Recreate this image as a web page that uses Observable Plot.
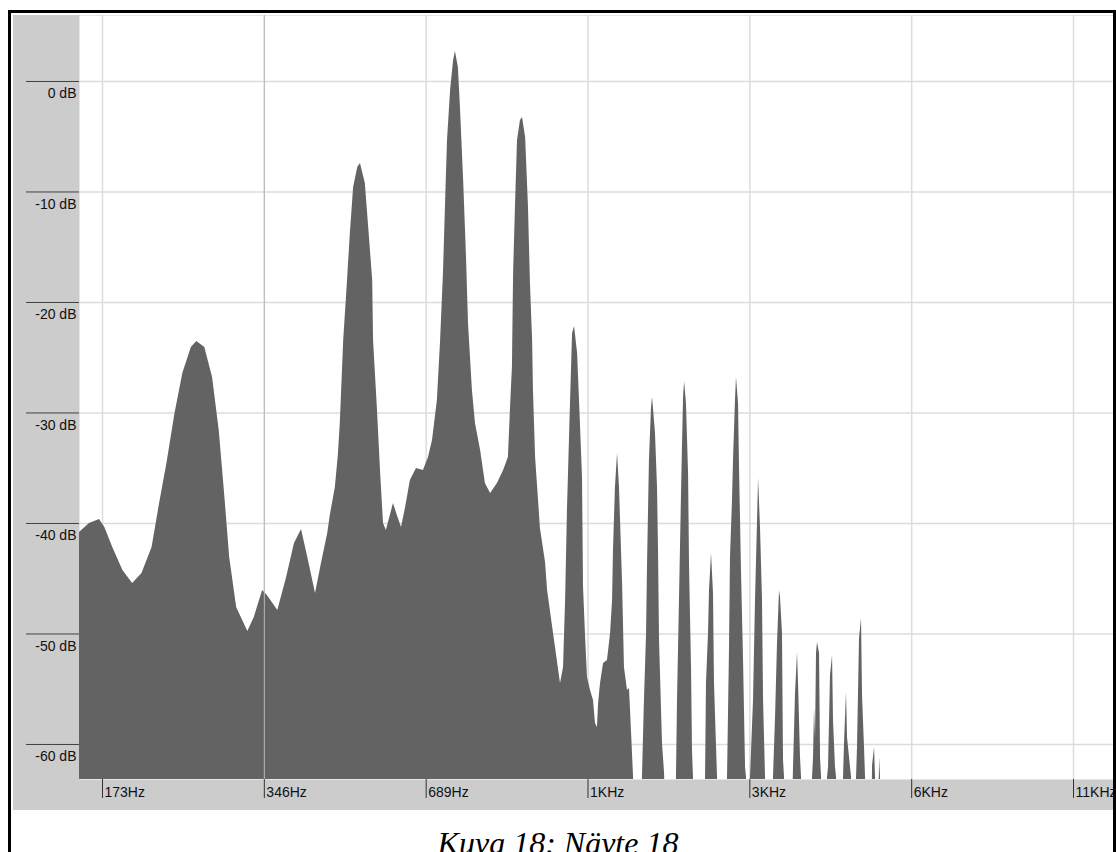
<!DOCTYPE html>
<html>
<head>
<meta charset="utf-8">
<script src="https://cdn.jsdelivr.net/npm/d3@7"></script>
<script src="https://cdn.jsdelivr.net/npm/@observablehq/plot@0.6"></script>
<style>
  html, body { margin: 0; padding: 0; background: #ffffff; overflow: hidden; width: 1116px; height: 852px; }
  #frame { position: absolute; left: 8px; top: 10px; width: 1102px; height: 900px; border: 3px solid #000; border-bottom: none; }
  #chart { position: absolute; left: 13px; top: 15px; }
  #caption { position: absolute; left: 0; top: 827px; width: 1116px; text-align: center;
             font-family: "Liberation Serif", "Times New Roman", serif; font-style: italic; font-size: 32px; line-height: 32px; color: #000; }
</style>
</head>
<body>
<div id="frame"></div>
<div id="chart"></div>
<div id="caption">Kuva 18: Näyte 18</div>
<script>
// Tick values and labels
const hzTicks = [172.27, 344.53, 689.06, 1378.13, 2756.25, 5512.5, 11025];
const hzLabels = ["173Hz", "346Hz", "689Hz", "1KHz", "3KHz", "6KHz", "11KHz"];
const dbTicks = [0, -10, -20, -30, -40, -50, -60];
const dbLabels = ["0 dB", "-10 dB", "-20 dB", "-30 dB", "-40 dB", "-50 dB", "-60 dB"];
const cursorHz = [344.53];

// Spectrum: frequency (Hz) and level (dB)
const freqHz = [
  156.1, 162.9, 170.1, 174, 180, 188, 196, 204, 213, 220, 227, 235, 243, 252, 258, 267, 276, 284, 291, 297,
  306, 321, 330, 342, 349, 365, 379, 392, 404, 415, 429, 440, 452, 457, 467, 473, 477, 484, 492, 498,
  505, 514, 520, 531, 538, 548, 550, 559, 567, 574, 581, 591, 599, 609, 620, 631, 644, 661, 681, 696,
  708, 723, 733, 742, 749, 755, 765, 775, 781, 791, 798, 809, 819, 826, 840, 851, 870, 888, 908, 935,
  960, 980, 989, 997, 1002, 1010, 1019, 1032, 1041, 1055, 1068, 1077, 1087, 1091, 1101, 1115, 1124, 1149, 1159, 1189,
  1225, 1241, 1252, 1262, 1279, 1290, 1301, 1318, 1335, 1346, 1352, 1364, 1375, 1393, 1411, 1423, 1435, 1442, 1454, 1473,
  1498, 1518, 1531, 1537, 1550, 1564, 1577, 1598, 1611, 1632, 1646, 1660, 1675, 1696, 1726, 1740, 1755, 1771, 1778, 1793,
  1809, 1817, 1840, 1856, 1864, 1872, 1896, 1913, 1929, 1996, 2013, 2022, 2039, 2057, 2066, 2075, 2084, 2101, 2120, 2129,
  2147, 2156, 2165, 2184, 2260, 2280, 2289, 2309, 2319, 2339, 2359, 2369, 2400, 2421, 2484, 2505, 2526, 2537, 2559, 2570,
  2592, 2603, 2626, 2637, 2660, 2683, 2706, 2717, 2741, 2764, 2800, 2824, 2848, 2861, 2885, 2910, 2923, 2948, 2973, 3024,
  3050, 3077, 3103, 3130, 3143, 3170, 3184, 3198, 3225, 3295, 3323, 3352, 3381, 3395, 3424, 3439, 3469, 3574, 3605, 3621,
  3636, 3652, 3667, 3683, 3715, 3731, 3747, 3779, 3828, 3844, 3861, 3894, 3928, 3944, 3978, 3996, 4030, 4099, 4117, 4135,
  4170, 4188, 4224, 4261, 4279, 4334, 4353, 4371, 4409, 4447, 4466, 4505, 4524, 4563, 4642, 4662, 4702, 4722, 4742, 4783,
  4804, 4824, 4845, 13085
];
const levelDb = [
  -40.81, -40.0, -39.64, -40.36, -42.17, -44.25, -45.43, -44.52, -42.17, -38.19, -34.57, -30.05, -26.43, -24.07, -23.53, -24.07, -26.79, -31.58, -37.65, -43.08,
  -47.60, -49.77, -48.51, -46.06, -46.52, -47.87, -44.89, -41.81, -40.54, -43.08, -46.33, -43.62, -40.90, -39.28, -36.74, -33.85, -30.95, -23.44, -18.01, -13.76,
  -9.59, -7.78, -7.42, -9.23, -12.85, -18.01, -23.44, -29.50, -35.48, -40.0, -40.63, -39.28, -38.19, -39.28, -40.36, -38.55, -36.11, -35.02, -35.20, -34.03,
  -32.49, -28.87, -23.44, -17.38, -10.77, -5.34, -0.81, 1.90, 2.71, 1.27, -2.35, -8.96, -15.93, -21.90, -27.96, -30.95, -33.39, -36.38, -37.29, -36.38,
  -35.20, -34.03, -29.50, -25.88, -17.38, -11.40, -5.34, -3.53, -3.26, -5.07, -11.40, -18.28, -23.44, -27.96, -34.03, -37.92, -40.45, -43.53, -46.06, -49.95,
  -54.48, -53.03, -46.97, -38.82, -28.87, -22.81, -22.17, -24.62, -31.31, -35.84, -45.79, -50.32, -53.94, -55.11, -56.02, -58.10, -58.46, -56.29, -54.48, -52.67,
  -52.40, -49.95, -46.97, -42.44, -36.74, -33.67, -36.74, -45.43, -53.03, -55.11, -54.93, -58.73, -62.99, -70, -70, -62.99, -56.02, -49.95, -43.98, -34.30,
  -29.50, -28.60, -31.86, -36.74, -42.44, -50.59, -59.91, -62.62, -70, -70, -62.99, -56.02, -46.97, -37.29, -32.76, -28.60, -27.15, -29.14, -35.48, -43.98,
  -53.03, -60.54, -62.99, -70, -70, -62.99, -54.48, -49.95, -46.06, -42.71, -46.33, -54.48, -62.99, -70, -70, -62.99, -51.49, -43.08, -37.92, -34.30,
  -28.87, -26.79, -29.14, -34.93, -44.52, -52.40, -62.08, -62.99, -70, -62.99, -56.02, -46.97, -40.0, -35.93, -40.36, -46.97, -56.02, -62.99, -70, -70,
  -62.99, -57.56, -50.86, -46.06, -46.70, -49.95, -61.45, -62.99, -70, -70, -62.17, -55.38, -51.67, -54.39, -61.18, -62.99, -70, -70, -62.99, -61.18,
  -56.74, -59.46, -51.76, -50.77, -51.76, -61.18, -62.99, -70, -70, -62.99, -62.08, -53.76, -51.95, -57.83, -62.08, -62.99, -70, -70, -62.99, -59.82,
  -55.29, -59.37, -61.18, -62.99, -70, -70, -62.99, -60.27, -50.41, -48.60, -55.57, -60.36, -62.99, -70, -70, -61.90, -60.27, -62.99, -70, -70,
  -61.18, -62.99, -70, -70
];

const spectrum = freqHz.map((hz, i) => ({hz, db: levelDb[i]}));

const chart = Plot.plot({
  width: 1100,
  height: 795,
  marginLeft: 66,
  marginRight: 0,
  marginTop: 0,
  marginBottom: 31,
  style: {background: "#cccccc", fontFamily: "'Liberation Sans', Arial, sans-serif", fontSize: "14px", color: "#111"},
  x: {type: "log", domain: [156.1, 13085], axis: null},
  y: {type: "linear", domain: [-63.17, 5.97], axis: null},
  marks: [
    Plot.frame({fill: "#ffffff", stroke: null}),
    Plot.ruleY(dbTicks, {stroke: "#dcdcdc", strokeWidth: 1.5}),
    Plot.ruleX(hzTicks, {stroke: "#dcdcdc", strokeWidth: 1.5}),
    Plot.areaY(spectrum, {x: "hz", y1: -80, y2: "db", fill: "#636363", curve: "linear", clip: true}),
    Plot.ruleX(cursorHz, {stroke: "#b8b8b8", strokeWidth: 1}),
    Plot.axisX({ticks: hzTicks, tickSize: 19, tickFormat: () => "", stroke: "#333", label: null}),
    Plot.axisY({ticks: dbTicks, tickSize: 53, tickFormat: () => "", stroke: "#404040", label: null}),
    Plot.text(hzTicks, {x: d => d, frameAnchor: "bottom", text: (d, i) => hzLabels[i], textAnchor: "start", lineAnchor: "top", dx: 2, dy: 8, fontSize: 14, fill: "#111"}),
    Plot.text(dbTicks, {y: d => d, frameAnchor: "left", text: (d, i) => dbLabels[i], textAnchor: "end", lineAnchor: "top", dx: -3, dy: 7, fontSize: 14, fill: "#111"})
  ]
});
document.getElementById("chart").appendChild(chart);
</script>
</body>
</html>
